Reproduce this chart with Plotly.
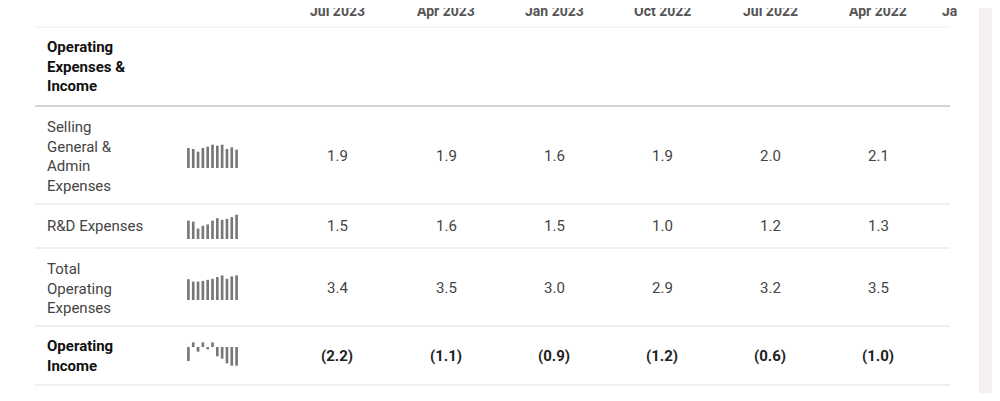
import plotly.graph_objects as go

W, H = 984, 385
OFF = 8
def px(x): return (x - OFF) / W
def py(y): return 1 - (y - OFF) / H

periods = ["Jul 2023", "Apr 2023", "Jan 2023", "Oct 2022", "Jul 2022", "Apr 2022", "Ja"]
period_x = [337, 446, 554, 662, 770, 878, 940]

rows = ["Selling<br>General &<br>Admin<br>Expenses", "R&D Expenses",
        "Total<br>Operating<br>Expenses", "<b>Operating<br>Income</b>"]
row_vals = [["1.9", "1.9", "1.6", "1.9", "2.0", "2.1"],
            ["1.5", "1.6", "1.5", "1.0", "1.2", "1.3"],
            ["3.4", "3.5", "3.0", "2.9", "3.2", "3.5"],
            ["(2.2)", "(1.1)", "(0.9)", "(1.2)", "(0.6)", "(1.0)"]]
row_y = [156, 226, 288, 356]

spark = [[60, 57, 49, 60, 64, 70, 67, 70, 57, 62, 55],
         [53, 50, 30, 38, 42, 53, 60, 55, 58, 63, 70],
         [60, 53, 53, 55, 58, 61, 66, 71, 61, 68, 71],
         [-3, 1, -1, 1, -0.5, 1, -2, -2.5, -3.5, -4, -4]]
spark_box = [(144, 168), (214, 239), (275, 300), (340, 368)]

fig = go.Figure()
for i, (vals, (t, b)) in enumerate(zip(spark, spark_box)):
    k = "" if i == 0 else str(i + 1)
    fig.add_trace(go.Bar(y=vals, marker_color="#777777", marker_line_width=0,
                         xaxis="x" + k, yaxis="y" + k, showlegend=False, hoverinfo="skip"))
    rng = [0, 72] if i < 3 else [-4.5, 1.5]
    fig.update_layout(**{
        "xaxis" + k: dict(domain=[px(186), px(239)], visible=False, fixedrange=True),
        "yaxis" + k: dict(domain=[py(b), py(t)], visible=False, range=rng, fixedrange=True),
    })

P = dict(xref="paper", yref="paper", showarrow=False)
ann = []
for p, x in zip(periods, period_x):
    ann.append(dict(x=px(x), y=py(11), text=f"<b>{p}</b>", **P,
                    xanchor="center" if p != "Ja" else "left", yanchor="middle",
                    font=dict(size=14, color="#555555")))
ann.append(dict(x=px(45), y=py(67), text="<b>Operating<br>Expenses &<br>Income</b>", **P,
                xanchor="left", yanchor="middle", align="left",
                font=dict(size=15, color="#111111")))
for r, vals, y in zip(rows, row_vals, row_y):
    ann.append(dict(x=px(45), y=py(y), text=r, **P, xanchor="left",
                    yanchor="middle", align="left",
                    font=dict(size=15, color="#111111" if "<b>" in r else "#444444")))
    for v, x in zip(vals, period_x):
        ann.append(dict(x=px(x), y=py(y), text=f"<b>{v}</b>" if "<b>" in r else v, **P,
                        xanchor="center", yanchor="middle",
                        font=dict(size=15, color="#222222" if "<b>" in r else "#444444")))

shapes = [dict(type="rect", xref="paper", yref="paper", x0=px(979), x1=1, y0=0, y1=1,
               fillcolor="#f5f0f0", line_width=0, layer="below")]
for y, c in [(27, "#eeeeee"), (106, "#aaaaaa"), (204, "#e0e0e0"), (248, "#e0e0e0"),
             (326, "#e0e0e0"), (385, "#e0e0e0")]:
    shapes.append(dict(type="line", xref="paper", yref="paper", x0=px(35), x1=px(950),
                       y0=py(y), y1=py(y), line=dict(color=c, width=1.2)))

fig.update_layout(width=W, height=H, margin=dict(l=0, r=0, t=0, b=0),
                  paper_bgcolor="white", plot_bgcolor="white", bargap=0.45,
                  font=dict(family="Roboto"), annotations=ann, shapes=shapes)
fig.write_html("out.html")
